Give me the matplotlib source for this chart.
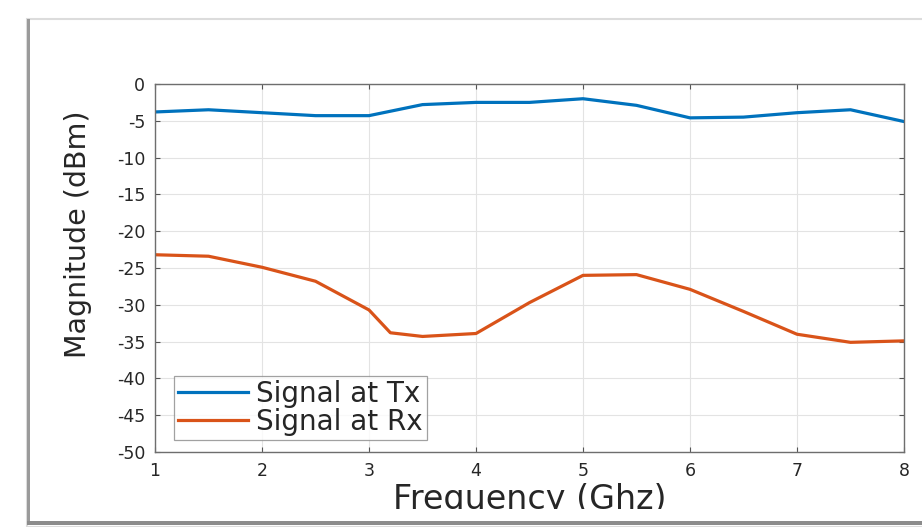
import matplotlib
matplotlib.use("Agg")
import matplotlib.pyplot as plt
from matplotlib.patches import Rectangle

# measured signal levels vs frequency
freq_tx = [1, 1.5, 2, 2.5, 3, 3.5, 4, 4.5, 5, 5.5, 6, 6.5, 7, 7.5, 8]
signal_tx = [-3.8, -3.5, -3.9, -4.3, -4.3, -2.8, -2.5, -2.5, -2.0, -2.9,
             -4.6, -4.5, -3.9, -3.5, -5.1]

freq_rx = [1, 1.5, 2, 2.5, 3, 3.2, 3.5, 4, 4.5, 5, 5.5, 6, 6.5, 7, 7.5, 8]
signal_rx = [-23.2, -23.4, -24.9, -26.8, -30.7, -33.8, -34.3, -33.9, -29.7,
             -26.0, -25.9, -27.9, -30.9, -34.0, -35.1, -34.9]

x_ticks = [1, 2, 3, 4, 5, 6, 7, 8]
y_ticks = [0, -5, -10, -15, -20, -25, -30, -35, -40, -45, -50]

plt.rcParams['font.family'] = ['DejaVu Sans']
plt.rcParams['axes.unicode_minus'] = False
text_color = '#262626'

fig = plt.figure(figsize=(9.22, 5.27), dpi=100)
fig.patch.set_facecolor('white')

# picture frame with a soft shadow on the left and bottom
W, H = 922.0, 527.0
fig.add_artist(Rectangle((27 / W, 0), 1, 1 - 19 / H, transform=fig.transFigure,
                         facecolor='none', edgecolor='#dcdcdc', linewidth=1.5))
fig.add_artist(Rectangle((27 / W, (H - 524) / H), 3 / W, (524 - 19) / H,
                         transform=fig.transFigure, facecolor='#9a9a9a',
                         edgecolor='none'))
fig.add_artist(Rectangle((27 / W, (H - 525) / H), 1, 4 / H,
                         transform=fig.transFigure, facecolor='#8c8c8c',
                         edgecolor='none'))

ax = fig.add_axes([155 / W, (H - 452) / H, 749 / W, 368 / H])

ax.plot(freq_tx, signal_tx, color='#0072BD', linewidth=2.3, label='Signal at Tx')
ax.plot(freq_rx, signal_rx, color='#D95319', linewidth=2.3, label='Signal at Rx')

ax.set_xlim(1, 8)
ax.set_ylim(-50, 0)
ax.set_xticks(x_ticks)
ax.set_yticks(y_ticks)
ax.tick_params(direction='in', length=3.5, width=0.8, top=True, right=True,
               labelsize=12.5, colors='#555555', labelcolor=text_color, pad=7)
ax.grid(True, color='#e3e3e3', linewidth=0.8)
ax.set_axisbelow(True)
for sp in ax.spines.values():
    sp.set_color('#6e6e6e')
    sp.set_linewidth(1.0)

xl = ax.set_xlabel('Frequency (Ghz)', fontsize=24, color=text_color, labelpad=2)
# the label sits against the frame and loses its descenders
xl.set_clip_path(Rectangle((0, (H - 509) / H), 1, 1, transform=fig.transFigure))

ax.set_ylabel('Magnitude (dBm)', fontsize=20.5, color=text_color)
ax.yaxis.set_label_coords(-0.084, 0.592)

leg = ax.legend(loc='lower left', bbox_to_anchor=(0.0254, 0.0326), fontsize=20,
                frameon=True, fancybox=False, handlelength=2.5,
                borderpad=0.15, labelspacing=0.0, handletextpad=0.3,
                borderaxespad=0)
leg.get_frame().set_edgecolor('#8a8a8a')
leg.get_frame().set_linewidth(0.9)
for t in leg.get_texts():
    t.set_color(text_color)

fig.savefig('out.png', dpi=100, facecolor='white')
